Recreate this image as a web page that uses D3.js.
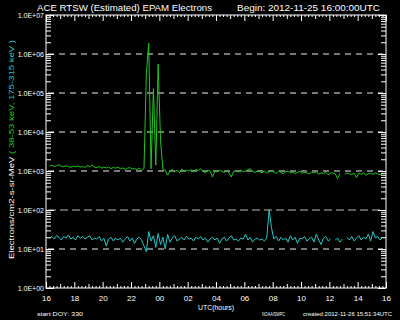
<!DOCTYPE html>
<html>
<head>
<meta charset="utf-8">
<script src="https://cdn.jsdelivr.net/npm/d3@7"></script>
<style>
  body { margin: 0; background: #000; }
  svg { display: block; }
  text { font-family: "Liberation Sans", Arial, sans-serif; fill: #fff; }
</style>
</head>
<body>
<div id="chart"></div>
<script>

// hours after 16:00 UTC of the first sample, one sample each 10 minutes
var startHour = 0.25;
var stepHour = 1 / 6;

// 38-53 keV electrons
var lowChannel = [
  1350,1400,1300,1380,1450,1320,1280,1360,1300,1250,
  1330,1280,1350,1260,1300,1240,1380,1290,1420,1260,
  1220,1300,1180,1250,1200,1280,1150,1230,1180,1260,
  1140,1200,1100,1180,1220,1120,1160,1080,1200,1020,
  1150,300000,1900000,1150,130000,1400,550000,6300,1100,1050,
  780,1000,1080,950,1050,900,1120,980,1040,1000,
  1080,950,1100,1020,1150,980,900,1050,1000,700,
  1000,950,1050,980,920,1030,880,700,990,1000,
  950,1050,960,1000,1080,1150,980,920,1000,970,
  900,1020,880,960,1000,940,870,990,920,850,
  960,1000,900,940,860,920,980,870,930,900,
  850,940,880,960,820,900,860,920,800,880,
  900,850,640,880,null,820,900,850,800,870,
  680,880,820,900,780,850,870,820,900,840,
  800,860
];

// 175-315 keV electrons
var highChannel = [
  19,21,18,22,20,17,21,19,23,18,
  20,17,22,19,21,18,20,22,17,19,
  18,21,16,19,12,18,20,16,19,17,
  19,15,18,21,16,19,14,18,20,17,
  12,8.5,28,16,22,11,25,13,20,10,
  24,15,19,22,16,18,20,17,21,18,
  19,16,20,18,21,17,19,15,18,20,
  17,19,14,18,20,16,19,22,17,18,
  16,19,18,24,17,20,15,18,19,17,
  18,16,19,100,35,18,21,16,20,17,
  19,15,22,17,20,14,19,18,21,16,
  18,20,15,24,17,13,19,21,16,18,
  null,17,19,15,18,null,20,17,21,16,
  19,22,17,20,18,24,16,28,19,21,
  17,20
];

var decades = [1, 10, 100, 1000, 1e4, 1e5, 1e6, 1e7];
var gridDecades = [10, 100, 1000, 1e4, 1e5, 1e6];
var hourLabels = [0, 2, 4, 6, 8, 10, 12, 14, 16, 18, 20, 22, 24];

var W = 400, H = 320;
var box = {left: 46, right: 386, top: 15, bottom: 288};

var svg = d3.select("#chart").append("svg")
    .attr("width", W)
    .attr("height", H)
    .style("background", "#000");

var x = d3.scaleLinear().domain([0, 24]).range([box.left, box.right]);
var y = d3.scaleLog().domain([1, 1e7]).range([box.bottom, box.top]);

// dashed decade lines
svg.append("g").selectAll("line")
  .data(gridDecades)
  .enter().append("line")
    .attr("x1", box.left + 2)
    .attr("x2", box.right - 3)
    .attr("y1", function(d) { return y(d); })
    .attr("y2", function(d) { return y(d); })
    .attr("stroke", function(d) { return d == 100 ? "#bbb" : "#eee"; })
    .attr("stroke-width", 1)
    .attr("stroke-dasharray", function(d) { return d == 100 ? "8,4" : "6,5"; });

// series
function series(vals) {
  return vals.map(function(v, i) { return {t: startHour + i * stepHour, v: v}; });
}
var line = d3.line()
    .defined(function(d) { return d.v != null; })
    .x(function(d) { return x(d.t); })
    .y(function(d) { return y(d.v); });

svg.append("path")
    .attr("d", line(series(lowChannel)))
    .attr("fill", "none")
    .attr("stroke", "#1ec81e")
    .attr("stroke-width", 1);

svg.append("path")
    .attr("d", line(series(highChannel)))
    .attr("fill", "none")
    .attr("stroke", "#22c8c8")
    .attr("stroke-width", 1);

// axes, ticks pointing into the box
var minor = y.ticks().filter(function(d) { return decades.indexOf(d) < 0; });
var fmtE = function(d) { return "1.0E+0" + Math.round(Math.log10(d)); };

var yLeft = svg.append("g").attr("transform", "translate(" + box.left + ",0)")
    .call(d3.axisLeft(y).tickValues(decades).tickSize(-8).tickPadding(2).tickFormat(fmtE));
svg.append("g").attr("transform", "translate(" + box.left + ",0)")
    .call(d3.axisLeft(y).tickValues(minor).tickSize(-5).tickFormat(""));
svg.append("g").attr("transform", "translate(" + box.right + ",0)")
    .call(d3.axisRight(y).tickValues(decades).tickSize(-8).tickFormat(""));
svg.append("g").attr("transform", "translate(" + box.right + ",0)")
    .call(d3.axisRight(y).tickValues(minor).tickSize(-5).tickFormat(""));

var quarter = d3.range(0, 24.01, 0.25).filter(function(d) { return d % 1 != 0; });
var oddHours = d3.range(1, 24, 2);

function hourFmt(d) { return d3.format("02d")((16 + d) % 24); }

var xBottom = svg.append("g").attr("transform", "translate(0," + box.bottom + ")")
    .call(d3.axisBottom(x).tickValues(hourLabels).tickSize(-6).tickPadding(7).tickFormat(hourFmt));
svg.append("g").attr("transform", "translate(0," + box.bottom + ")")
    .call(d3.axisBottom(x).tickValues(oddHours).tickSize(-4).tickFormat(""));
svg.append("g").attr("transform", "translate(0," + box.bottom + ")")
    .call(d3.axisBottom(x).tickValues(quarter).tickSize(-2).tickFormat(""));
svg.append("g").attr("transform", "translate(0," + box.top + ")")
    .call(d3.axisTop(x).tickValues(hourLabels).tickSize(-6).tickFormat(""));
svg.append("g").attr("transform", "translate(0," + box.top + ")")
    .call(d3.axisTop(x).tickValues(oddHours).tickSize(-4).tickFormat(""));
svg.append("g").attr("transform", "translate(0," + box.top + ")")
    .call(d3.axisTop(x).tickValues(quarter).tickSize(-2).tickFormat(""));

svg.selectAll(".domain").remove();
svg.selectAll(".tick line").attr("stroke", "#fff");
svg.selectAll(".tick text").attr("fill", "#fff").style("font-family", "Liberation Sans, Arial, sans-serif");
yLeft.selectAll("text").style("font-size", "7px");
xBottom.selectAll("text").style("font-size", "8px");

svg.append("rect")
    .attr("x", box.left).attr("y", box.top)
    .attr("width", box.right - box.left).attr("height", box.bottom - box.top)
    .attr("fill", "none").attr("stroke", "#fff").attr("stroke-width", 1);

// texts
svg.append("text").attr("x", 37).attr("y", 11).attr("font-size", 9.5)
    .attr("textLength", 175).attr("lengthAdjust", "spacingAndGlyphs")
    .text("ACE RTSW (Estimated) EPAM Electrons");
svg.append("text").attr("x", 237).attr("y", 11).attr("font-size", 9.5)
    .attr("textLength", 143).attr("lengthAdjust", "spacingAndGlyphs")
    .text("Begin: 2012-11-25 16:00:00UTC");

var yt = svg.append("text")
    .attr("transform", "translate(14,259) rotate(-90)")
    .attr("font-size", 8)
    .attr("textLength", 219).attr("lengthAdjust", "spacingAndGlyphs");
yt.append("tspan").text("Electrons/cm2-s-sr-MeV");
yt.append("tspan").attr("fill", "#1ec81e").text(" ( 38-53 keV,");
yt.append("tspan").attr("fill", "#22c8c8").text(" 175-315 keV )");

svg.append("text").attr("x", 216).attr("y", 310).attr("font-size", 8)
    .attr("text-anchor", "middle").attr("textLength", 36).attr("lengthAdjust", "spacingAndGlyphs")
    .text("UTC(hours)");

svg.append("text").attr("x", 37).attr("y", 316).attr("font-size", 6)
    .attr("textLength", 46).attr("lengthAdjust", "spacingAndGlyphs")
    .text("start DOY:  330");
svg.append("text").attr("x", 262).attr("y", 316).attr("font-size", 6)
    .attr("textLength", 23).attr("lengthAdjust", "spacingAndGlyphs")
    .text("NOAA/SWPC");
svg.append("text").attr("x", 303).attr("y", 316).attr("font-size", 6)
    .attr("textLength", 89).attr("lengthAdjust", "spacingAndGlyphs")
    .text("created:2012-11-26 15:51:34UTC");

</script>
</body>
</html>
